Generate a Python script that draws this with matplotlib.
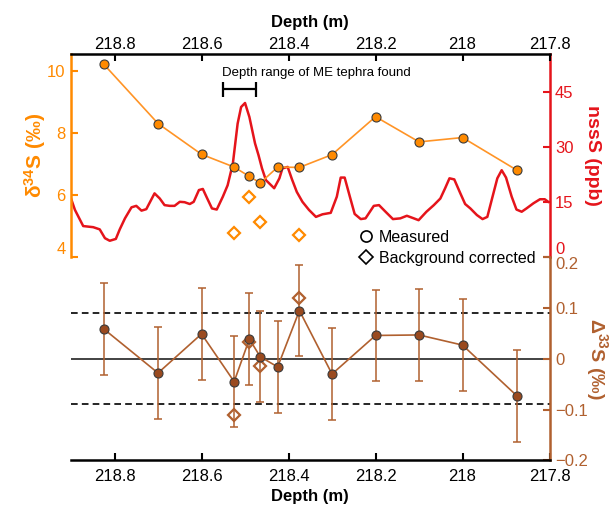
import matplotlib
matplotlib.use("Agg")
import matplotlib.pyplot as plt
from matplotlib.lines import Line2D
import numpy as np

plt.rcParams['font.family'] = ['Liberation Sans', 'DejaVu Sans']
plt.rcParams['mathtext.fontset'] = 'custom'
plt.rcParams['mathtext.rm'] = 'Liberation Sans'
plt.rcParams['mathtext.it'] = 'Liberation Sans:italic'
plt.rcParams['mathtext.bf'] = 'Liberation Sans:bold'

# ---------------- data ----------------
depth_meas = [218.825, 218.70, 218.60, 218.525, 218.49, 218.465, 218.425,
              218.375, 218.30, 218.20, 218.10, 218.00, 217.875]
d34_meas = [10.21, 8.30, 7.31, 6.90, 6.60, 6.39, 6.90, 6.89, 7.30, 8.52,
            7.71, 7.85, 6.80]
depth_corr = [218.525, 218.49, 218.465, 218.375]
d34_corr = [4.77, 5.94, 5.14, 4.71]

D33_meas = [0.059, -0.028, 0.049, -0.045, 0.039, 0.004, -0.016, 0.095,
            -0.030, 0.046, 0.047, 0.027, -0.073]
D33_err = [0.09] * 13
D33_corr = [-0.111, 0.034, -0.014, 0.120]

nss_depth = [218.90, 218.891, 218.872, 218.849, 218.834, 218.822, 218.811,
             218.797, 218.788, 218.776, 218.761, 218.750, 218.738, 218.727,
             218.708, 218.696, 218.685, 218.673, 218.662, 218.650, 218.639,
             218.627, 218.618, 218.606, 218.597, 218.588, 218.576, 218.565,
             218.551, 218.540, 218.528, 218.517, 218.509, 218.500, 218.490,
             218.477, 218.469, 218.461, 218.452, 218.433, 218.421, 218.414,
             218.402, 218.392, 218.381, 218.368, 218.353, 218.337, 218.322,
             218.303, 218.289, 218.280, 218.271, 218.259, 218.248, 218.234,
             218.223, 218.204, 218.192, 218.177, 218.160, 218.143, 218.128,
             218.112, 218.101, 218.083, 218.066, 218.051, 218.040, 218.030,
             218.019, 218.005, 217.994, 217.982, 217.967, 217.954, 217.943,
             217.931, 217.920, 217.910, 217.900, 217.887, 217.876, 217.864,
             217.853, 217.837, 217.822, 217.811, 217.803]
nss_ppb = [16.0, 12.9, 8.5, 8.2, 7.6, 5.2, 4.5, 5.0, 7.6, 10.6, 13.6, 14.0,
           12.7, 13.1, 17.4, 16.0, 14.2, 14.0, 14.0, 15.1, 15.0, 14.5, 15.1,
           18.3, 18.6, 16.3, 13.3, 13.0, 16.5, 19.6, 25.5, 36.4, 40.9, 42.0,
           38.2, 31.0, 27.8, 24.2, 21.0, 18.8, 21.5, 24.2, 24.6, 21.2, 17.8,
           15.1, 12.9, 11.0, 11.7, 12.1, 16.5, 21.7, 21.7, 16.5, 11.8, 10.4,
           10.6, 14.0, 14.2, 12.4, 10.4, 10.6, 11.3, 10.6, 10.1, 12.4, 14.2,
           16.0, 18.8, 21.5, 21.2, 17.4, 14.5, 13.3, 11.5, 10.4, 11.0, 16.5,
           21.5, 23.7, 21.7, 16.5, 13.0, 12.4, 13.3, 14.7, 15.8, 15.8, 15.1]

tephra_range = [218.55, 218.475]
dashed_levels = [0.09, -0.09]

depth_ticks = [218.8, 218.6, 218.4, 218.2, 218.0, 217.8]
depth_ticklabels = ['218.8', '218.6', '218.4', '218.2', '218', '217.8']

# ---------------- style ----------------
ORANGE = '#FF8A00'
ORANGE_L = '#FF9426'
RED = '#E5141B'
BROWN = '#B0602F'
BROWN_F = '#9A4A1F'
EDGE = '#3A3A3A'

fig = plt.figure(figsize=(6.16, 5.05), dpi=100)
L, W = 0.1153, 0.7768
ax = fig.add_axes([L, 0.4905, W, 0.4016])
axr = ax.twinx()
axb = fig.add_axes([L, 0.0885, W, 0.402])

XL = (218.9, 217.8)
for a in (ax, axr, axb):
    a.set_xlim(*XL)
    a.patch.set_visible(False)

# ---- top panel ----
axr.plot(nss_depth, nss_ppb, color=RED, lw=1.8, zorder=2)
axr.set_ylim(0, 55.2)
axr.set_yticks([0, 15, 30, 45])
ax.set_zorder(axr.get_zorder() + 1)

ax.plot(depth_meas, d34_meas, color=ORANGE_L, lw=1.2, marker='o', ms=6.5,
        mfc=ORANGE, mec=EDGE, mew=0.8, zorder=3)
ax.plot(depth_corr, d34_corr, ls='none', marker='D', ms=6.2, mfc='none',
        mec=ORANGE, mew=1.6, zorder=3)
ax.set_ylim(4, 10.52)
ax.set_yticks([4, 6, 8, 10])

# tephra bracket
ax.errorbar([np.mean(tephra_range)], [9.41],
            xerr=[abs(tephra_range[0] - tephra_range[1]) / 2],
            fmt='none', ecolor='black', elinewidth=1.6, capsize=5.4,
            capthick=1.6)
ax.text(tephra_range[0] + 0.002, 9.92, 'Depth range of ME tephra found',
        fontsize=9.5, ha='left', va='center')

ax.xaxis.set_ticks_position('top')
ax.xaxis.set_label_position('top')
ax.set_xticks(depth_ticks)
ax.set_xticklabels(depth_ticklabels)
ax.set_xlabel('Depth (m)', fontsize=12, fontweight='bold', labelpad=7)
ax.tick_params(axis='x', direction='in', length=5, width=1.5, labelsize=12,
               pad=2)
ax.tick_params(axis='y', direction='in', length=5, width=1.5, colors=ORANGE,
               labelsize=12, pad=4)
ax.set_ylabel(r'$\mathbf{\delta^{34}S}$ (‰)', color=ORANGE, fontsize=15,
              fontweight='bold')
ax.yaxis.set_label_coords(-0.048, 0.504)
for s in ['bottom', 'right']:
    ax.spines[s].set_visible(False)
ax.spines['top'].set_linewidth(1.8)
ax.spines['left'].set_linewidth(1.8)
ax.spines['left'].set_color(ORANGE)

axr.tick_params(axis='y', direction='in', length=5, width=1.5, colors=RED,
                labelsize=12, pad=4)
axr.set_ylabel('nssS (ppb)', color=RED, fontsize=14, fontweight='bold',
               rotation=270, labelpad=20)
for s in ['bottom', 'left', 'top']:
    axr.spines[s].set_visible(False)
axr.spines['right'].set_linewidth(1.8)
axr.spines['right'].set_color(RED)

# ---- bottom panel ----
axb.axhline(0, color='#222222', lw=1.2, zorder=1)
for lev in dashed_levels:
    axb.axhline(lev, color='black', lw=1.2, ls=(0, (4, 2.5)), zorder=1)
axb.errorbar(depth_meas, D33_meas, yerr=D33_err, fmt='none', ecolor=BROWN,
             elinewidth=1.1, capsize=3.2, capthick=1.1, zorder=2)
axb.plot(depth_meas, D33_meas, color=BROWN, lw=1.2, zorder=3)
axb.plot(depth_corr, D33_corr, ls='none', marker='D', ms=6.2, mfc='none',
         mec=BROWN, mew=1.6, zorder=4)
axb.plot(depth_meas, D33_meas, ls='none', marker='o', ms=6.5, mfc=BROWN_F,
         mec=EDGE, mew=0.8, zorder=5)
axb.set_ylim(-0.2, 0.2)
axb.yaxis.set_ticks_position('right')
axb.yaxis.set_label_position('right')
axb.set_yticks([-0.2, -0.1, 0, 0.1, 0.2])
axb.set_yticklabels(['\u22120.2', '\u22120.1', '0', '0.1', '0.2'])
axb.tick_params(axis='y', direction='in', length=5, width=1.5, colors=BROWN,
                labelsize=12, pad=4)
axb.set_xticks(depth_ticks)
axb.set_xticklabels(depth_ticklabels)
axb.tick_params(axis='x', direction='in', length=5, width=1.5, labelsize=12,
                pad=6)
axb.set_xlabel('Depth (m)', fontsize=12, fontweight='bold', labelpad=4)
axb.set_ylabel(r'$\mathbf{\Delta^{33}S}$ (‰)', color=BROWN, fontsize=14,
               fontweight='bold', rotation=270, labelpad=16)
for s in ['top', 'left']:
    axb.spines[s].set_visible(False)
axb.spines['bottom'].set_linewidth(1.8)
axb.spines['right'].set_linewidth(1.8)
axb.spines['right'].set_color(BROWN)

# tweak overlapping end labels
fig.canvas.draw()
axr.get_yticklabels()[0].set_va('bottom')
axb.get_yticklabels()[-1].set_va('top')
ax.get_yticklabels()[0].set_va('bottom')

# legend
handles = [Line2D([], [], ls='none', marker='o', ms=8, mfc='none', mec='black',
                  mew=1.2),
           Line2D([], [], ls='none', marker='D', ms=7, mfc='none', mec='black',
                  mew=1.2)]
fig.legend(handles, ['Measured', 'Background corrected'], loc='upper left',
           bbox_to_anchor=(358 / 616, 1 - 230 / 505), frameon=False,
           fontsize=11.5, handletextpad=0.3, labelspacing=0.35,
           handlelength=1.0, borderaxespad=0, borderpad=0)

fig.savefig('out.png', dpi=100)
